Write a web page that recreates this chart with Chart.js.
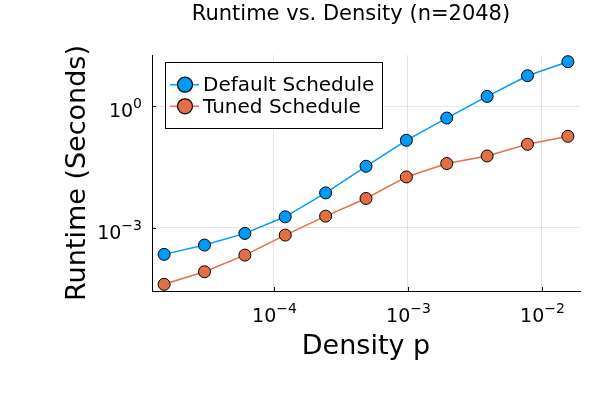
<!DOCTYPE html>
<html>
<head>
<meta charset="utf-8">
<script src="https://cdn.jsdelivr.net/npm/chart.js@4/dist/chart.umd.min.js"></script>
<style>
html,body{margin:0;padding:0;background:#fff;}
#wrap{width:600px;height:400px;}
</style>
</head>
<body>
<div id="wrap"><canvas id="c" width="600" height="400"></canvas></div>
<script>
// ---- data ----
const densities = [2**-16, 2**-15, 2**-14, 2**-13, 2**-12, 2**-11, 2**-10, 2**-9, 2**-8, 2**-7, 2**-6];
const defaultRuntime = [2.22e-4, 3.76e-4, 7.29e-4, 1.87e-3, 7.26e-3, 0.0329, 0.1435, 0.507, 1.73, 5.59, 12.4];
const tunedRuntime = [4.06e-5, 8.28e-5, 2.13e-4, 6.62e-4, 1.94e-3, 5.29e-3, 0.01795, 0.0384, 0.059, 0.1144, 0.18];
const seriesNames = ["Default Schedule", "Tuned Schedule"];
const xTickExps = [-4, -3, -2];
const yTickExps = [-3, 0];
const titleText = "Runtime vs. Density (n=2048)";
const xTitle = "Density p";
const yTitle = "Runtime (Seconds)";

const colors = ["#009AFA", "#E36F47"];
const FONT = "'DejaVu Sans', sans-serif";

function logLimits(vals) {
  const l = vals.map(v => Math.log10(v));
  const lo = Math.min(...l), hi = Math.max(...l);
  const pad = (hi - lo) * 0.03;
  return [Math.pow(10, lo - pad), Math.pow(10, hi + pad)];
}
const [xMin, xMax] = logLimits(densities);
const [yMin, yMax] = logLimits(defaultRuntime.concat(tunedRuntime));

function toPts(ys) { return densities.map((x, i) => ({x: x, y: ys[i]})); }

function supLabel(ctx, base, exp, x, y, align) {
  // draws "10" with superscript exponent; (x,y) = anchor on baseline
  ctx.font = "19px " + FONT;
  const wb = ctx.measureText(base).width;
  ctx.font = "14px " + FONT;
  const we = ctx.measureText(exp).width;
  const total = wb + we;
  let x0 = align === "center" ? x - total / 2 : x - total;
  ctx.textAlign = "left";
  ctx.textBaseline = "alphabetic";
  ctx.font = "19px " + FONT;
  ctx.fillText(base, x0, y);
  ctx.font = "14px " + FONT;
  ctx.fillText(exp, x0 + wb, y - 9);
}

const decor = {
  id: "decor",
  afterDraw(chart) {
    const ctx = chart.ctx;
    const xs = chart.scales.x, ys = chart.scales.y;
    const a = chart.chartArea;
    ctx.save();
    ctx.fillStyle = "#000";
    ctx.strokeStyle = "#000";
    ctx.lineWidth = 1;
    // tick marks (inward)
    xTickExps.forEach(e => {
      const px = Math.round(xs.getPixelForValue(Math.pow(10, e))) + 0.5;
      ctx.beginPath(); ctx.moveTo(px, a.bottom); ctx.lineTo(px, a.bottom - 4); ctx.stroke();
      supLabel(ctx, "10", "\u2212" + Math.abs(e), px, 322, "center");
    });
    yTickExps.forEach(e => {
      const py = Math.round(ys.getPixelForValue(Math.pow(10, e))) + 0.5;
      ctx.beginPath(); ctx.moveTo(a.left, py); ctx.lineTo(a.left + 4, py); ctx.stroke();
      const ex = e < 0 ? "\u2212" + Math.abs(e) : String(e);
      supLabel(ctx, "10", ex, a.left - 10, py + 10, "right");
    });
    // title
    ctx.textAlign = "center";
    ctx.textBaseline = "alphabetic";
    ctx.font = "21px " + FONT;
    ctx.fillText(titleText, 351, 20);
    // x title
    ctx.font = "27px " + FONT;
    ctx.fillText(xTitle, (a.left + a.right) / 2, 354);
    // y title
    ctx.save();
    ctx.translate(85, (a.top + a.bottom) / 2);
    ctx.rotate(-Math.PI / 2);
    ctx.fillText(yTitle, 0, 0);
    ctx.restore();
    // legend
    const lx = 165.5, ly = 62.5, lw = 217, lh = 66;
    ctx.fillStyle = "#fff";
    ctx.fillRect(lx, ly, lw, lh);
    ctx.strokeStyle = "#000";
    ctx.lineWidth = 1;
    ctx.strokeRect(lx, ly, lw, lh);
    const rowsY = [84.7, 106.3];
    chart.data.datasets.forEach((ds, i) => {
      const yy = rowsY[i];
      ctx.strokeStyle = ds.borderColor;
      ctx.lineWidth = 1.5;
      ctx.beginPath(); ctx.moveTo(170, yy); ctx.lineTo(199, yy); ctx.stroke();
      ctx.beginPath(); ctx.arc(185, yy, 7.5, 0, Math.PI * 2);
      ctx.fillStyle = ds.backgroundColor; ctx.fill();
      ctx.strokeStyle = "#000"; ctx.lineWidth = 1.2; ctx.stroke();
      ctx.fillStyle = "#000";
      ctx.font = "20px " + FONT;
      ctx.textAlign = "left";
      ctx.textBaseline = "middle";
      ctx.fillText(ds.label, 203, yy + 1);
    });
    ctx.restore();
  }
};

new Chart(document.getElementById("c"), {
  type: "line",
  data: {
    datasets: [
      {label: seriesNames[0], data: toPts(defaultRuntime), borderColor: colors[0], backgroundColor: colors[0],
       pointBorderColor: "#000", pointBorderWidth: 1, pointRadius: 6, borderWidth: 1.5, tension: 0},
      {label: seriesNames[1], data: toPts(tunedRuntime), borderColor: colors[1], backgroundColor: colors[1],
       pointBorderColor: "#000", pointBorderWidth: 1, pointRadius: 6, borderWidth: 1.5, tension: 0}
    ]
  },
  options: {
    responsive: false,
    animation: false,
    devicePixelRatio: 1,
    layout: {padding: {left: 152, right: 20, top: 55, bottom: 109}},
    plugins: {legend: {display: false}, title: {display: false}, tooltip: {enabled: false}},
    scales: {
      x: {
        type: "logarithmic", min: xMin, max: xMax,
        afterBuildTicks: s => { s.ticks = xTickExps.map(e => ({value: Math.pow(10, e)})); },
        ticks: {display: false},
        grid: {color: "rgba(0,0,0,0.1)", lineWidth: 1, drawTicks: false},
        border: {display: true, color: "#000", width: 1}
      },
      y: {
        type: "logarithmic", min: yMin, max: yMax,
        afterBuildTicks: s => { s.ticks = yTickExps.map(e => ({value: Math.pow(10, e)})); },
        ticks: {display: false},
        grid: {color: "rgba(0,0,0,0.1)", lineWidth: 1, drawTicks: false},
        border: {display: true, color: "#000", width: 1}
      }
    }
  },
  plugins: [decor]
});
</script>
</body>
</html>
